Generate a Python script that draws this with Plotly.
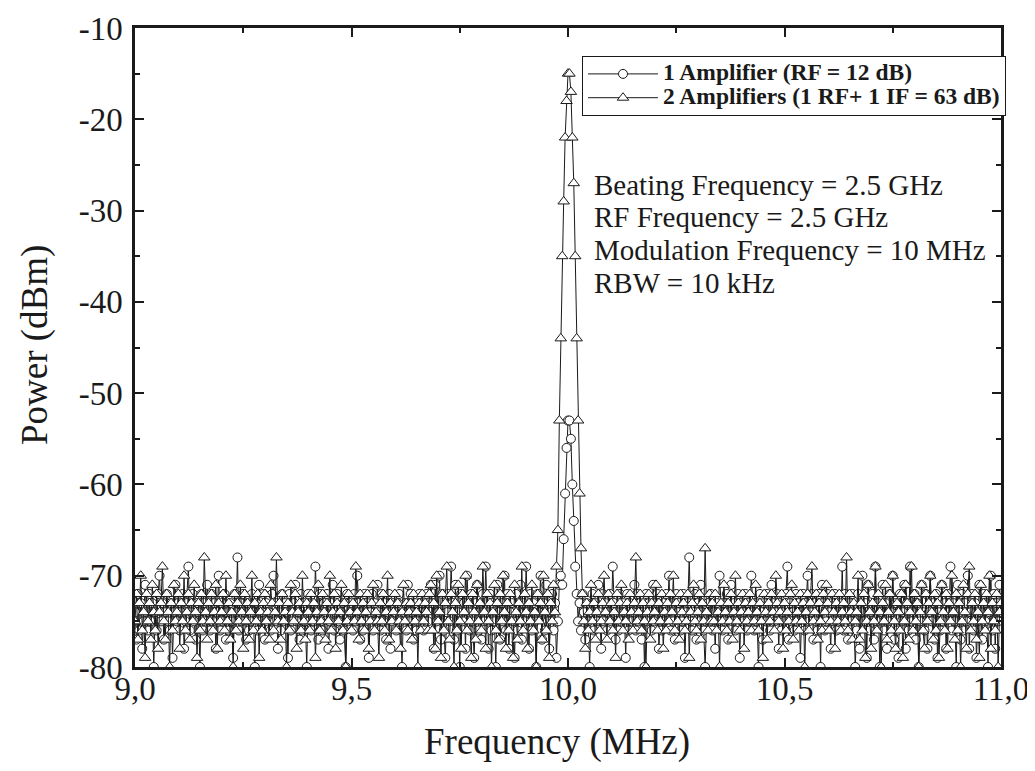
import numpy as np
import plotly.graph_objects as go

# Frequency sweep grid (MHz)
FREQ_START = 9.0
FREQ_STOP = 11.0
N_POINTS = 601

# Series 1: 1 Amplifier (RF = 12 dB), dBm
amp1_noise_a = [
    -74,-77,-72,-76,-73,-78,-75,-71,-74,-76,
    -72,-75,-73,-80,-74,-76,-72,-70,-75,-73,
    -77,-74,-72,-75,-76,-73,-79,-74,-71,-75,
    -73,-76,-74,-72,-78,-75,-73,-69,-76,-74,
    -72,-75,-77,-73,-74,-80,-72,-76,-73,-75,
    -71,-74,-76,-72,-75,-73,-78,-74,-70,-76,
    -73,-75,-72,-77,-74,-76,-73,-75,-79,-72,
    -74,-68,-76,-73,-75,-72,-74,-77,-73,-76,
    -75,-72,-74,-80,-73,-76,-71,-75,-74,-72,
    -77,-73,-75,-74,-76,-72,-70,-75,-73,-78,
    -74,-76,-72,-75,-73,-74,-79,-72,-76,-75,
    -73,-71,-75,-74,-77,-72,-76,-73,-75,-80,
    -72,-74,-76,-73,-75,-69,-74,-77,-72,-75,
    -76,-73,-74,-72,-78,-75,-73,-71,-76,-74,
    -72,-75,-77,-74,-73,-76,-80,-72,-75,-73,
    -74,-76,-72,-75,-70,-73,-77,-74,-76,-72,
    -75,-73,-79,-74,-72,-76,-73,-75,-71,-74,
    -76,-72,-75,-73,-77,-74,-72,-78,-75,-73,
    -74,-76,-73,-72,-75,-80,-74,-73,-76,-71,
    -75,-72,-74,-77,-73,-76,-75,-72,-74,-73,
    -76,-74,-72,-75,-73,-71,
]
amp1_noise_a2 = [
    -73,-78,-71,-75,-74,-70,-77,-72,-76,-79,
    -74,-72,-75,-69,-73,-77,-71,-76,-74,-80,
    -72,-75,-73,-78,-70,-74,-76,-72,-75,-79,
    -73,-71,-76,-74,-77,-72,-75,-69,-74,-78,
    -72,-76,-73,-75,-80,-71,-74,-77,-73,-75,
    -70,-76,-72,-78,-74,-73,-75,-79,-72,-76,
    -74,-71,-77,-73,-75,-69,-74,-78,-72,-76,
    -73,-75,-80,-72,-74,-70,-77,-73,-76,-71,
    -75,-78,-74,-72,-76,-73,-79,-75,-71,
]
amp1_peak = [-70,-71,-66,-61,-56,-53,-53,-55,-60,-64,-69,-72]
amp1_noise_b = [
    -75,-73,-76,-72,-74,-77,-73,-75,-80,-74,
    -72,-76,-73,-75,-71,-74,-78,-72,-75,-73,
    -76,-74,-72,-75,-69,-73,-77,-74,-76,-72,
    -75,-73,-74,-79,-72,-76,-73,-75,-74,-71,
    -76,-72,-75,-73,-77,-74,-80,-72,-75,-73,
    -74,-76,-71,-75,-73,-72,-78,-74,-76,-73,
    -75,-72,-74,-70,-76,-73,-75,-77,-72,-74,
    -73,-76,-75,-72,-79,-74,-73,-68,-75,-76,
    -74,-72,-77,-73,-75,-71,-74,-76,-80,-75,
    -73,-75,-72,-76,-74,-78,-73,-75,-70,-74,
    -76,-73,-75,-72,-77,-74,-71,-75,-73,-76,
    -74,-72,-79,-73,-75,-74,-72,-76,-73,-75,
    -70,-74,-76,-73,-75,-80,-72,-74,-77,-73,
    -75,-72,-74,-76,-71,-73,-75,-74,-72,-78,
    -73,-76,-74,-75,-72,-69,-77,-73,-75,-74,
    -76,-72,-75,-73,-79,-74,-72,-76,-73,-70,
    -75,-74,-72,-77,-73,-75,-76,-72,-80,-71,
    -73,-76,-75,-72,-74,-78,-73,-75,-72,-76,
    -74,-73,-75,-69,-76,-72,-74,-77,-73,-75,
    -72,-74,-80,
]
amp1_noise_b2 = [
    -76,-72,-78,-74,-70,-75,-73,-79,-71,-76,
    -74,-72,-77,-69,-75,-73,-80,-74,-71,-76,
    -73,-78,-75,-72,-74,-70,-77,-73,-76,-79,
    -72,-75,-74,-71,-78,-73,-76,-69,-75,-74,
    -72,-77,-73,-80,-75,-71,-74,-76,-72,-78,
    -74,-70,-75,-73,-77,-72,-79,-74,-76,-71,
    -75,-73,-78,-72,-74,-69,-76,-73,-75,-80,
    -71,-74,-77,-72,-76,-73,-75,-70,-78,-74,
    -72,-76,-73,-79,-75,-71,-74,-77,-72,-75,
    -73,-80,-74,-70,-76,-72,-78,-73,-75,-71,
    -74,
]

# Series 2: 2 Amplifiers (1 RF + 1 IF = 63 dB), dBm
amp2_noise_a = [
    -75,-72,-77,-73,-70,-76,-74,-79,-72,-75,
    -73,-77,-71,-74,-76,-72,-78,-74,-73,-69,
    -75,-77,-72,-74,-80,-73,-76,-71,-75,-74,
    -72,-78,-73,-75,-70,-76,-74,-72,-77,-73,
    -75,-71,-74,-79,-73,-76,-72,-75,-68,-74,
    -77,-73,-75,-72,-76,-74,-71,-78,-73,-75,
    -74,-72,-76,-70,-75,-73,-77,-74,-80,-72,
    -76,-73,-75,-71,-74,-78,-72,-75,-73,-77,
    -74,-70,-76,-73,-75,-72,-79,-74,-76,-73,
    -72,-75,-74,-77,-71,-73,-76,-74,-68,-75,
    -73,-77,-72,-75,-74,-80,-73,-76,-71,-74,
    -75,-72,-78,-74,-73,-76,-70,-75,-77,-73,
    -74,-76,-72,-75,-73,-79,-74,-71,-76,-75,
    -72,-74,-77,-73,-75,-70,-76,-74,-72,-78,
    -73,-75,-74,-71,-76,-73,-80,-75,-72,-74,
    -76,-73,-75,-69,-74,-77,-72,-75,-73,-76,
    -74,-72,-78,-75,-73,-71,-76,-74,-75,-79,
    -73,-75,-72,-76,-74,-70,-77,-73,-75,-74,
    -72,-76,-73,-75,-78,-74,-71,-75,-73,-76,
    -74,-73,-77,-72,-75,-74,-80,-73,-76,-72,
    -75,-73,-74,-76,-72,
]
amp2_noise_a2 = [
    -71,-76,-73,-78,-70,-75,-74,-79,-72,-76,
    -73,-69,-75,-77,-72,-74,-80,-73,-76,-71,
    -75,-78,-72,-74,-70,-76,-73,-75,-79,-72,
    -74,-77,-71,-75,-73,-76,-69,-74,-78,-72,
    -75,-73,-80,-74,-71,-76,-73,-77,-72,-75,
    -70,-74,-78,-73,-76,-72,-75,-79,-71,-74,
    -77,-73,-75,-69,-76,-72,-74,-78,-73,-75,
    -71,-76,-74,-80,-72,-75,-73,-77,-70,-74,
    -76,-72,-79,-73,-75,-71,-74,
]
amp2_peak = [-69,-65,-53,-44,-35,-29,-22,-18,-15,-15,-17,-22,-27,-35,-44,-53,-61,-67]
amp2_noise_b = [
    -72,-75,-78,-73,-76,-74,-71,-75,-73,-77,
    -74,-72,-76,-75,-73,-70,-74,-77,-72,-75,
    -73,-76,-74,-79,-72,-75,-73,-71,-76,-74,
    -75,-73,-77,-72,-74,-76,-73,-68,-75,-74,
    -72,-76,-73,-75,-80,-74,-72,-77,-73,-75,
    -74,-71,-76,-73,-75,-72,-78,-74,-76,-73,
    -75,-72,-74,-70,-76,-73,-75,-77,-72,-74,
    -73,-76,-75,-72,-79,-74,-73,-71,-75,-76,
    -74,-72,-77,-73,-75,-67,-74,-76,-72,-75,
    -73,-75,-72,-76,-74,-80,-73,-75,-71,-74,
    -76,-73,-75,-72,-77,-74,-70,-75,-73,-76,
    -74,-72,-78,-73,-75,-74,-72,-76,-73,-75,
    -71,-74,-76,-73,-75,-79,-72,-74,-77,-73,
    -75,-72,-74,-76,-70,-73,-75,-74,-72,-78,
    -73,-76,-74,-75,-72,-71,-77,-73,-75,-74,
    -76,-72,-75,-73,-80,-74,-72,-76,-73,-69,
    -75,-74,-72,-77,-73,-75,-76,-72,-74,-71,
    -73,-76,-75,-72,-74,-78,-73,-75,-72,-76,
    -74,-73,-75,-68,-76,-72,-74,-77,-73,-75,
]
amp2_noise_b2 = [
    -74,-70,-77,-73,-76,-72,-79,-75,-71,-74,
    -78,-73,-75,-69,-76,-72,-74,-80,-73,-75,
    -71,-77,-74,-72,-76,-70,-75,-78,-73,-74,
    -76,-72,-79,-75,-71,-73,-77,-74,-69,-76,
    -72,-75,-73,-80,-74,-71,-76,-78,-72,-75,
    -73,-70,-74,-77,-72,-76,-73,-79,-75,-71,
    -74,-76,-72,-78,-73,-75,-70,-74,-77,-72,
    -76,-73,-80,-75,-71,-74,-78,-72,-69,-76,
    -73,-75,-72,-77,-74,-79,-71,-75,-73,-76,
    -72,-74,-70,-78,-73,-75,-76,-72,-80,-74,
    -73,
]

amp1 = amp1_noise_a + amp1_noise_a2 + amp1_peak + amp1_noise_b + amp1_noise_b2
amp2 = amp2_noise_a + amp2_noise_a2 + amp2_peak + amp2_noise_b + amp2_noise_b2
assert len(amp1) == N_POINTS, len(amp1)
assert len(amp2) == N_POINTS, len(amp2)
freq = np.linspace(FREQ_START, FREQ_STOP, N_POINTS)

series_names = ["1 Amplifier (RF = 12 dB)", "2 Amplifiers (1 RF+ 1 IF = 63 dB)"]
x_tickvals = [9.0, 9.5, 10.0, 10.5, 11.0]
x_ticktext = ["9,0", "9,5", "10,0", "10,5", "11,0"]
y_tickvals = [-80, -70, -60, -50, -40, -30, -20, -10]
y_ticktext = ["-80", "-70", "-60", "-50", "-40", "-30", "-20", "-10"]
info_lines = [
    "Beating Frequency = 2.5 GHz",
    "RF Frequency = 2.5 GHz",
    "Modulation Frequency = 10 MHz",
    "RBW = 10 kHz",
]

FONT = "Liberation Serif"
INK = "#1a1a1a"

# page offset of the plot div (default body margin)
OFF = 8
FIG_W, FIG_H = 1035 - OFF, 771 - OFF
# plot-area frame in page pixels
L, R, T, B = 135, 1001, 28, 667
W, H = R - L, B - T

fig = go.Figure()
fig.add_trace(go.Scatter(
    x=freq, y=amp1, mode="lines+markers",
    name='<span style="font-size:23.5px">' + series_names[0] + "</span>",
    line=dict(color=INK, width=1),
    marker=dict(symbol="circle", size=9, color="white", line=dict(color=INK, width=1)),
))
fig.add_trace(go.Scatter(
    x=freq, y=amp2, mode="lines+markers",
    name='<span style="font-size:23.5px">' + series_names[1] + "</span>",
    line=dict(color=INK, width=1),
    marker=dict(symbol="triangle-up", size=10, color="white", line=dict(color=INK, width=1)),
))

axis_common = dict(
    showline=True, linecolor=INK, linewidth=2.5, mirror="ticks",
    ticks="inside", ticklen=9, tickwidth=2, tickcolor=INK,
    showgrid=False, zeroline=False, automargin=False,
    tickfont=dict(family=FONT, size=33, color=INK),
)
fig.update_xaxes(
    range=[FREQ_START, FREQ_STOP], tickmode="array", tickvals=x_tickvals, ticktext=x_ticktext,
    minor=dict(ticks="inside", ticklen=5, tickwidth=2, tickcolor=INK, dtick=0.25, tick0=9.0),
    ticklabelstandoff=-9,
    **axis_common,
)
fig.update_yaxes(
    range=[-80, -10], tickmode="array", tickvals=y_tickvals, ticktext=y_ticktext,
    minor=dict(ticks="inside", ticklen=5, tickwidth=2, tickcolor=INK, dtick=5, tick0=-80),
    ticklabelstandoff=3,
    **axis_common,
)

annotations = [
    dict(text="Power (dBm)", xref="paper", yref="paper", x=(35 - L) / W, y=(B - 345) / H,
         textangle=-90, showarrow=False, xanchor="center", yanchor="middle",
         font=dict(family=FONT, size=37, color=INK)),
    dict(text="Frequency (MHz)", xref="paper", yref="paper", x=(557 - L) / W, y=(B - 742) / H,
         showarrow=False, xanchor="center", yanchor="middle",
         font=dict(family=FONT, size=37, color=INK)),
]
info_y_px = [185, 217, 250, 283]
for line, ypx in zip(info_lines, info_y_px):
    annotations.append(dict(
        text=line, xref="paper", yref="paper",
        x=(592 - L) / W, y=(B - ypx) / H,
        showarrow=False, xanchor="left", yanchor="middle",
        font=dict(family=FONT, size=29, color=INK),
    ))

fig.update_layout(
    width=FIG_W, height=FIG_H,
    margin=dict(l=L - OFF, r=FIG_W - (R - OFF), t=T - OFF, b=FIG_H - (B - OFF),
                autoexpand=False),
    paper_bgcolor="white", plot_bgcolor="white",
    showlegend=True,
    legend=dict(
        x=(582 - L) / W, y=(B - 56) / H, xanchor="left", yanchor="top",
        bgcolor="white", bordercolor=INK, borderwidth=1,
        font=dict(family=FONT, size=16, color=INK, weight="bold"),
        itemwidth=70, tracegroupgap=0,
    ),
    annotations=annotations,
)

fig.write_html("out.html")
